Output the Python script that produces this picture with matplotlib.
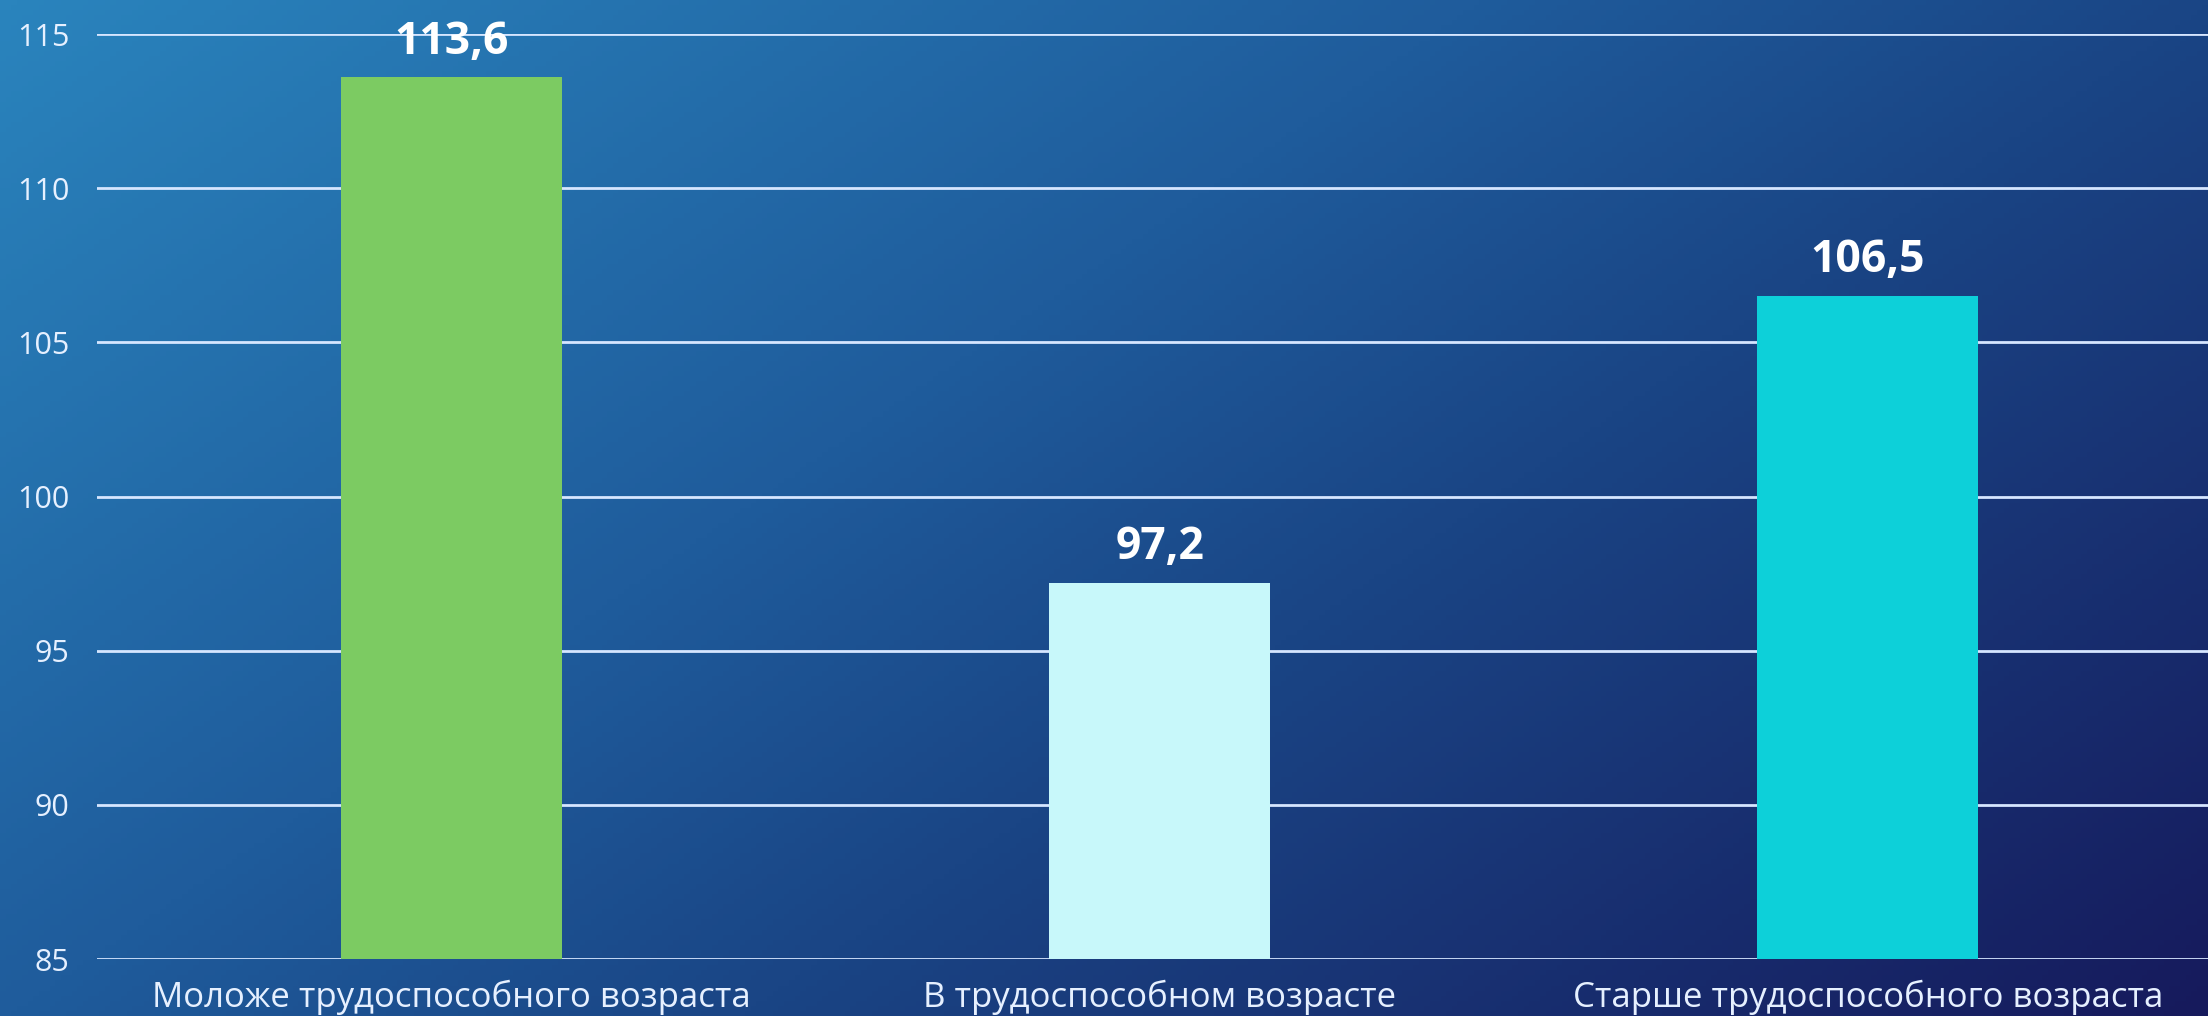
import numpy as np
import matplotlib
matplotlib.use("Agg")
import matplotlib.pyplot as plt
from matplotlib.colors import LinearSegmentedColormap

categories = ["Моложе трудоспособного возраста",
              "В трудоспособном возрасте",
              "Старше трудоспособного возраста"]
values = [113.6, 97.2, 106.5]
value_labels = ["113,6", "97,2", "106,5"]
bar_colors = ["#7ccb62", "#c8f8fa", "#0dd0d9"]
yticks = [85, 90, 95, 100, 105, 110, 115]

plt.rcParams["font.family"] = ["Open Sans", "DejaVu Sans"]

fig = plt.figure(figsize=(22.08, 10.16), dpi=100)

# background gradient, light blue top-left to dark navy bottom-right
bg = fig.add_axes([0, 0, 1, 1], zorder=-10)
gx, gy = np.meshgrid(np.linspace(0, 1, 400), np.linspace(0, 1, 200))
t = 0.6 * gx + 0.4 * gy
cmap = LinearSegmentedColormap.from_list(
    "bg", [(0.0, "#2a84bd"), (0.4, "#1f5c9c"), (0.6, "#1a4585"), (1.0, "#161a5c")])
bg.imshow(t, cmap=cmap, aspect="auto", extent=[0, 1, 1, 0], vmin=0, vmax=1)
bg.axis("off")

ax = fig.add_axes([97 / 2208, 57 / 1016, 1 - 97 / 2208, (958 - 33) / 1016])
ax.patch.set_alpha(0)
x = np.arange(len(categories))
ax.bar(x, [v - 85 for v in values], bottom=85, width=0.312, color=bar_colors, zorder=3)

for xi, v, lab in zip(x, values, value_labels):
    ax.annotate(lab, (xi, v), xytext=(0, 17), textcoords="offset points",
                ha="center", va="baseline", color="white", fontsize=32,
                fontweight="bold", zorder=5)

ax.set_ylim(85, 115)
ax.set_xlim(-0.5, 2.48)
ax.set_yticks(yticks)
ax.set_yticklabels([str(v) for v in yticks], color="#e6f0ff", fontsize=22)
ax.set_xticks(x)
ax.set_xticklabels(categories, color="#e6f0ff", fontsize=25)
ax.tick_params(axis="both", length=0)
ax.tick_params(axis="y", pad=20)
ax.tick_params(axis="x", pad=15)
ax.grid(axis="y", color="#d6e6ff", linewidth=2.0, zorder=1)
for s in ax.spines.values():
    s.set_visible(False)

fig.savefig("out.png", dpi=100)
